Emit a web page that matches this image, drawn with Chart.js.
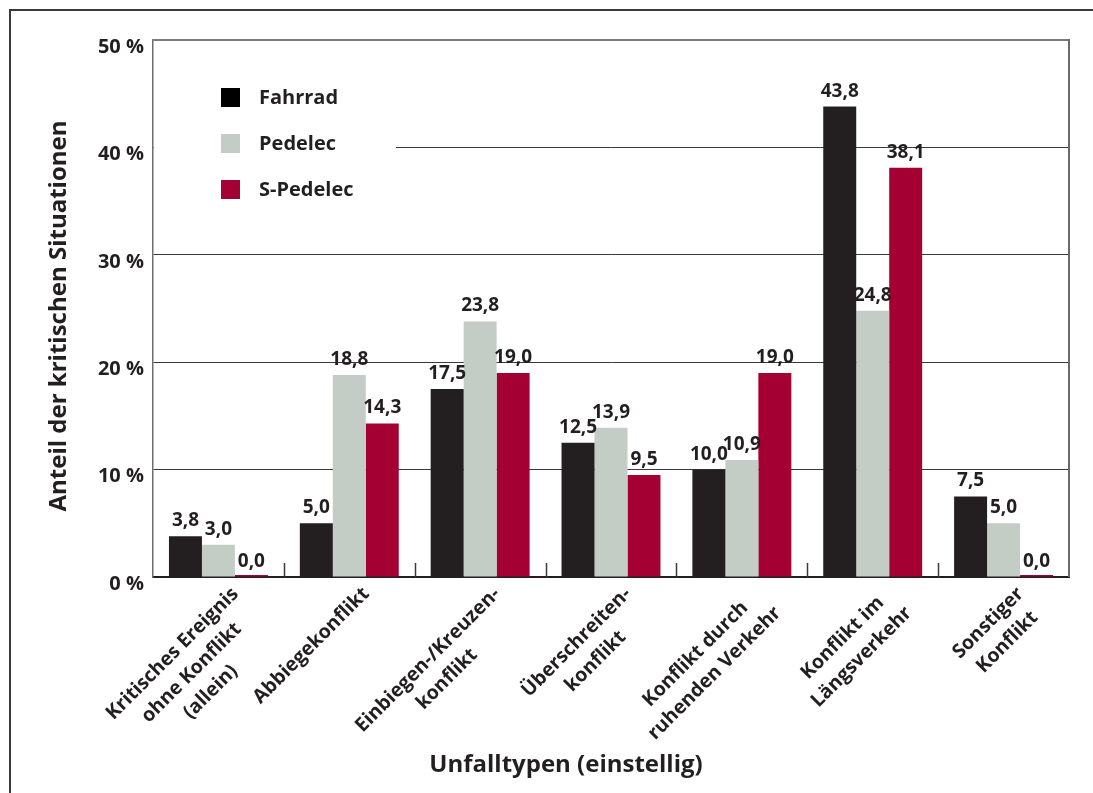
<!DOCTYPE html>
<html>
<head>
<meta charset="utf-8">
<script src="https://cdn.jsdelivr.net/npm/chart.js@4"></script>
<style>
  html, body { margin: 0; padding: 0; background: #ffffff; }
  #wrap { width: 1093px; height: 793px; }
  canvas { display: block; }
</style>
</head>
<body>
<div id="wrap"><canvas id="c" width="1093" height="793"></canvas></div>
<script>
// Accident types (one-digit classification), each label split into lines
const categories = [
  ['Kritisches Ereignis', 'ohne Konflikt', '(allein)'],
  ['Abbiegekonflikt'],
  ['Einbiegen-/Kreuzen-', 'konflikt'],
  ['Überschreiten-', 'konflikt'],
  ['Konflikt durch', 'ruhenden Verkehr'],
  ['Konflikt im', 'Längsverkehr'],
  ['Sonstiger', 'Konflikt']
];
// Share of critical situations in percent
const fahrrad  = [3.8, 5.0, 17.5, 12.5, 10.0, 43.8, 7.5];
const pedelec  = [3.0, 18.8, 23.8, 13.9, 10.9, 24.8, 5.0];
const sPedelec = [0.0, 14.3, 19.0, 9.5, 19.0, 38.1, 0.0];
const seriesNames = ['Fahrrad', 'Pedelec', 'S-Pedelec'];
const seriesColors = ['#231f20', '#c3cdc6', '#a50034'];
const yTickValues = [0, 10, 20, 30, 40, 50];
const yTitle = 'Anteil der kritischen Situationen';
const xTitle = 'Unfalltypen (einstellig)';

const FONT = '"Open Sans", "DejaVu Sans", sans-serif';
const INK = '#231f20';

const fmt = v => v.toFixed(1).replace('.', ',');

// Outer frame and plot-area right edge
const framePlugin = {
  id: 'frame',
  beforeDraw(chart) {
    const ctx = chart.ctx;
    ctx.save();
    ctx.fillStyle = '#ffffff';
    ctx.fillRect(0, 0, chart.width, chart.height);
    ctx.strokeStyle = '#3a3a3a';
    ctx.lineWidth = 2;
    ctx.strokeRect(10, 10, chart.width + 50, chart.height + 50);
    ctx.restore();
  },
  afterDraw(chart) {
    const ctx = chart.ctx;
    const a = chart.chartArea;
    ctx.save();
    ctx.strokeStyle = '#6a6a6a';
    ctx.lineWidth = 2;
    ctx.beginPath();
    ctx.moveTo(a.right, a.top - 1);
    ctx.lineTo(a.right, a.bottom);
    ctx.stroke();
    ctx.restore();
  }
};

// Legend inside the plot on a white panel
const legendPlugin = {
  id: 'insideLegend',
  beforeDatasetsDraw(chart) {
    const ctx = chart.ctx;
    const a = chart.chartArea;
    ctx.save();
    ctx.fillStyle = '#ffffff';
    ctx.fillRect(a.left + 1, a.top + 30, 242, 160);
    ctx.font = 'bold 20px ' + FONT;
    ctx.textBaseline = 'middle';
    ctx.textAlign = 'left';
    chart.data.datasets.forEach((ds, i) => {
      const y = a.top + 48 + i * 46;
      ctx.fillStyle = i === 0 ? '#000000' : ds.backgroundColor;
      ctx.fillRect(a.left + 68, y, 19, 19);
      ctx.fillStyle = INK;
      ctx.fillText(ds.label, a.left + 106, y + 10);
    });
    ctx.restore();
  }
};

// Value labels, category labels, tick marks and axis titles
const textPlugin = {
  id: 'texts',
  afterDatasetsDraw(chart) {
    const ctx = chart.ctx;
    const yScale = chart.scales.y;
    ctx.save();
    ctx.font = 'bold 19px ' + FONT;
    ctx.fillStyle = INK;
    ctx.textAlign = 'center';
    ctx.textBaseline = 'alphabetic';
    chart.data.datasets.forEach((ds, di) => {
      const meta = chart.getDatasetMeta(di);
      meta.data.forEach((el, i) => {
        const v = ds.data[i];
        ctx.fillText(fmt(v), el.x, yScale.getPixelForValue(v) - 10);
      });
    });
    ctx.restore();
  },
  afterDraw(chart) {
    const ctx = chart.ctx;
    const a = chart.chartArea;
    const x = chart.scales.x;
    ctx.save();

    // short category separators rising from the baseline
    ctx.strokeStyle = '#3a3a3a';
    ctx.lineWidth = 1.5;
    for (let i = 1; i < categories.length; i++) {
      const px = Math.round((x.getPixelForValue(i - 1) + x.getPixelForValue(i)) / 2) + 0.5;
      ctx.beginPath();
      ctx.moveTo(px, a.bottom - 14);
      ctx.lineTo(px, a.bottom);
      ctx.stroke();
    }

    // rotated, centred multi-line category labels
    ctx.fillStyle = INK;
    ctx.font = 'bold 19.5px ' + FONT;
    ctx.textAlign = 'center';
    ctx.textBaseline = 'top';
    const lh = 27;
    categories.forEach((lines, i) => {
      const cx = x.getPixelForValue(i);
      const w = Math.max(...lines.map(l => ctx.measureText(l).width));
      ctx.save();
      ctx.translate(cx + 10, a.bottom + 7);
      ctx.rotate(-Math.PI / 4);
      lines.forEach((l, k) => ctx.fillText(l, -w / 2, k * lh));
      ctx.restore();
    });

    // axis titles
    ctx.font = 'bold 24px ' + FONT;
    ctx.textBaseline = 'middle';
    ctx.textAlign = 'center';
    ctx.fillText(xTitle, 566, 765);
    ctx.save();
    ctx.translate(59, 316);
    ctx.rotate(-Math.PI / 2);
    ctx.fillText(yTitle, 0, 0);
    ctx.restore();
    ctx.restore();
  }
};

const seriesData = [fahrrad, pedelec, sPedelec];

new Chart(document.getElementById('c'), {
  type: 'bar',
  data: {
    labels: categories,
    datasets: seriesNames.map((name, i) => ({
      label: name,
      data: seriesData[i],
      backgroundColor: seriesColors[i],
      borderWidth: 0,
      minBarLength: 2,
      categoryPercentage: 0.756,
      barPercentage: 1.0
    }))
  },
  options: {
    responsive: false,
    animation: false,
    devicePixelRatio: 1,
    layout: { padding: { left: 0, top: 40, right: 24, bottom: 0 } },
    plugins: {
      legend: { display: false },
      tooltip: { enabled: false }
    },
    scales: {
      x: {
        type: 'category',
        offset: true,
        grid: { display: false, drawTicks: false },
        border: { display: true, color: INK, width: 2 },
        ticks: { display: false },
        afterFit(scale) { scale.height = 216; }
      },
      y: {
        min: 0,
        max: 50,
        afterBuildTicks(scale) { scale.ticks = yTickValues.map(v => ({ value: v })); },
        ticks: {
          callback: v => v + ' %',
          font: { family: FONT, size: 20, weight: 'bold' },
          color: INK,
          padding: 9,
          labelOffset: 7
        },
        grid: {
          drawTicks: false,
          color: c => c.tick.value === 50 ? '#7a7a7a' : (c.tick.value === 0 ? 'rgba(0,0,0,0)' : '#3a3a3a'),
          lineWidth: c => c.tick.value === 50 ? 2 : 1
        },
        border: { display: true, color: '#6d6d6d', width: 1.5 },
        afterFit(scale) { scale.width = 153; }
      }
    }
  },
  plugins: [framePlugin, legendPlugin, textPlugin]
});
</script>
</body>
</html>
